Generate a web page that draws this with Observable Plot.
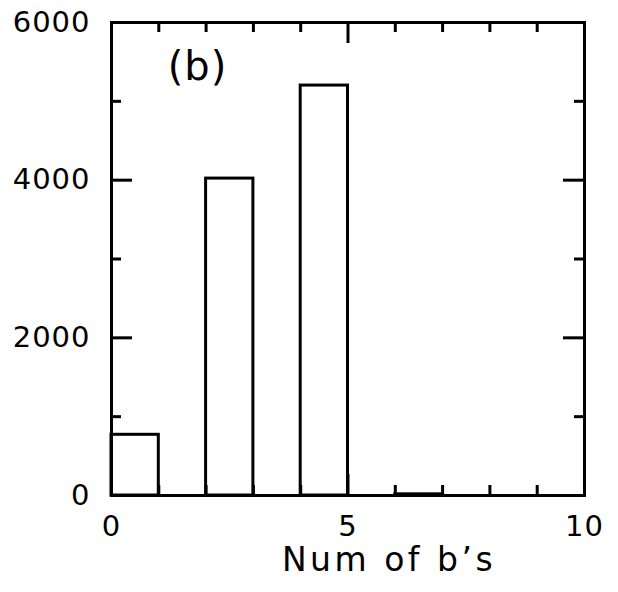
<!DOCTYPE html>
<html>
<head>
<meta charset="utf-8">
<script src="https://cdn.jsdelivr.net/npm/d3@7"></script>
<script src="https://cdn.jsdelivr.net/npm/@observablehq/plot@0.6"></script>
<style>
  html, body { margin: 0; padding: 0; background: #fff; }
  #chart { width: 618px; height: 592px; }
</style>
</head>
<body>
<div id="chart"></div>
<script>
// Histogram bins (number of b's) and counts
const binStart = [0, 1, 2, 3, 4, 5, 6, 7, 8, 9];
const binEnd   = [1, 2, 3, 4, 5, 6, 7, 8, 9, 10];
const counts   = [770, 0, 4020, 0, 5200, 0, 15, 0, 0, 0];

// Axis tick values
const xTickLabels = [0, 5, 10];
const xMajorTicks = [5];
const xMinorTicks = [1, 2, 3, 4, 6, 7, 8, 9];
const yTickLabels = [0, 2000, 4000, 6000];
const yMajorTicks = [2000, 4000];
const yMinorTicks = [1000, 3000, 5000];

const panelLabel = "(b)";
const xLabel = "Num of b\u2019s";

const W = 618, H = 592;
const mL = 111, mR = 34, mT = 22, mB = 97;
const pw = W - mL - mR, ph = H - mT - mB;
const majorLen = 21, minorLen = 10;

const bins = binStart.map((s, i) => ({x1: s, x2: binEnd[i], y: counts[i]}));

const chart = Plot.plot({
  width: W,
  height: H,
  marginLeft: mL,
  marginRight: mR,
  marginTop: mT,
  marginBottom: mB,
  style: {fontFamily: "DejaVu Sans", color: "black", background: "white"},
  x: {domain: [0, 10]},
  y: {domain: [0, 6000]},
  marks: [
    Plot.rectY(bins.filter(d => d.y > 0), {x1: "x1", x2: "x2", y: "y", fill: "white", stroke: "black", strokeWidth: 3}),
    // bottom ticks (inward)
    Plot.tickX(xMajorTicks, {x: d => d, insetTop: ph - majorLen, stroke: "black", strokeWidth: 3}),
    Plot.tickX(xMinorTicks, {x: d => d, insetTop: ph - minorLen, stroke: "black", strokeWidth: 3}),
    // top ticks (inward)
    Plot.tickX(xMajorTicks, {x: d => d, insetBottom: ph - majorLen, stroke: "black", strokeWidth: 3}),
    Plot.tickX(xMinorTicks, {x: d => d, insetBottom: ph - minorLen, stroke: "black", strokeWidth: 3}),
    // left ticks
    Plot.tickY(yMajorTicks, {y: d => d, insetRight: pw - majorLen, stroke: "black", strokeWidth: 3}),
    Plot.tickY(yMinorTicks, {y: d => d, insetRight: pw - minorLen, stroke: "black", strokeWidth: 3}),
    // right ticks
    Plot.tickY(yMajorTicks, {y: d => d, insetLeft: pw - majorLen, stroke: "black", strokeWidth: 3}),
    Plot.tickY(yMinorTicks, {y: d => d, insetLeft: pw - minorLen, stroke: "black", strokeWidth: 3}),
    Plot.frame({stroke: "black", strokeWidth: 3}),
    Plot.axisX(xTickLabels, {anchor: "bottom", tickSize: 0, tickPadding: 20, fontSize: 29, label: null, tickFormat: d => String(d)}),
    Plot.axisY(yTickLabels, {anchor: "left", tickSize: 0, tickPadding: 21, fontSize: 29, label: null, tickFormat: d => String(d)}),
    Plot.text([xLabel], {text: d => d, frameAnchor: "bottom", dx: 41, dy: 75, lineAnchor: "bottom", fontSize: 33, fill: "black", className: "xlabel"}),
    Plot.text([panelLabel], {text: d => d, frameAnchor: "top-left", dx: 86, dy: 57, lineAnchor: "bottom", textAnchor: "middle", fontSize: 40, fill: "black"})
  ]
});
document.getElementById("chart").appendChild(chart);
d3.select(chart).selectAll("text").style("letter-spacing", "1px");
d3.select(chart).selectAll(".xlabel text").style("letter-spacing", "3.5px");
</script>
</body>
</html>
